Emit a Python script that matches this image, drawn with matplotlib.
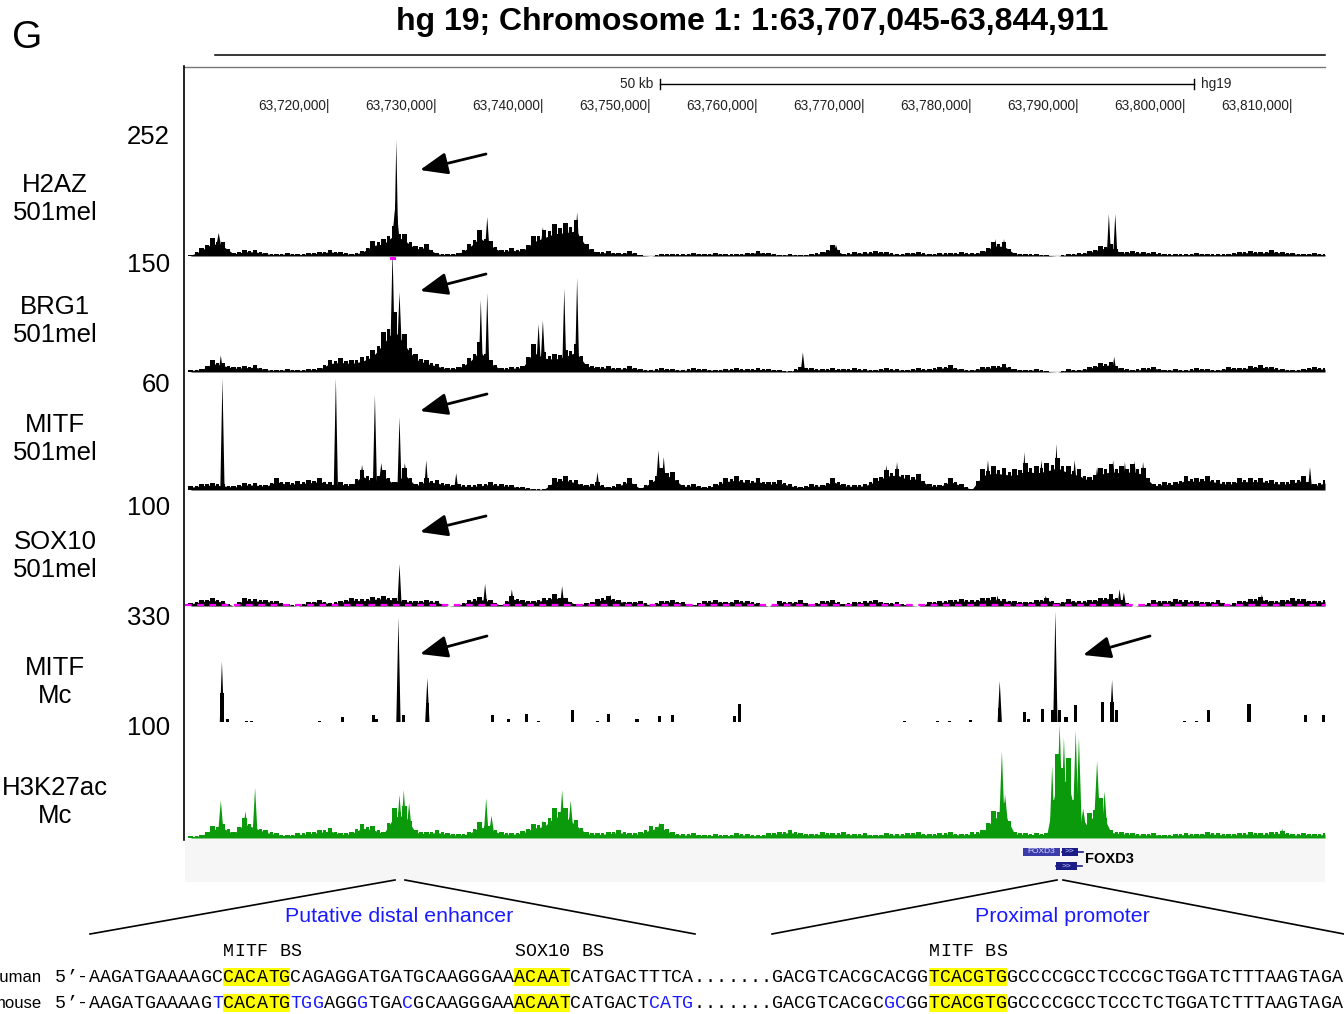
import numpy as np
import matplotlib
matplotlib.use('Agg')
import matplotlib.pyplot as plt
from matplotlib.patches import Rectangle, FancyArrowPatch
from matplotlib.lines import Line2D

plt.rcParams['font.family'] = ['Liberation Sans', 'DejaVu Sans']

# ---------------- data ----------------
bin_start_kb = 63707          # first 1-kb bin (kb)
view_kb = (63706.45, 63813.0)

track_names = ['H2AZ\n501mel', 'BRG1\n501mel', 'MITF\n501mel', 'SOX10\n501mel', 'MITF\nMc', 'H3K27ac\nMc']
track_max = [252, 150, 60, 100, 330, 100]

h2az_bins = [2,16,36,28,6,12,12,6,4,6, 4,6,8,12,8,4,10,30,34,60, 44,20,24,6,4,6,24,52,30,12,
             16,14,40,52,64,66,72,24,8,10, 6,10,2,0,4,4,4,6,4,6, 4,4,6,10,6,2,4,2,4,8,
             22,4,8,8,10,8,4,6,8,4, 6,6,8,6,10,28,28,6,4,4, 2,0,4,6,10,20,24,8,10,8,
             8,4,4,4,6,4,4,4,8,10, 8,12,8,6,4,6,4]
h2az_spike_kb = [63709.6, 63726.15, 63726.2, 63734.0, 63734.7, 63739.9, 63742.2, 63743.1, 63767.3, 63782.2, 63783.0, 63792.8, 63793.4]
h2az_spike_val = [46, 110, 232, 48, 78, 58, 62, 88, 22, 34, 34, 84, 84]
h2az_spike_w = [0.4, 0.5, 0.2, 0.3, 0.25, 0.3, 0.3, 0.25, 0.3, 0.2, 0.2, 0.2, 0.2]

brg1_bins = [3,4,16,12,7,8,9,4,3,4, 3,4,5,16,18,16,20,29,53,79, 50,24,16,11,5,7,18,39,16,5,
             7,8,37,26,24,29,37,11,7,8, 5,8,4,3,5,4,3,5,4,3, 4,5,4,5,4,3,1,7,5,4,
             5,4,5,4,3,5,4,3,5,4, 7,9,4,3,7,8,11,4,3,4, 1,0,4,3,7,12,13,5,3,5,
             7,3,4,3,5,4,3,7,5,8, 9,7,4,3,4,7,5]
brg1_spike_kb = [63709.8, 63725.85, 63726.0, 63726.5, 63734.1, 63734.7, 63739.5, 63739.9, 63741.9, 63743.1, 63764.2, 63793.3]
brg1_spike_val = [22, 160, 70, 105, 95, 104, 63, 68, 110, 124, 26, 20]
brg1_spike_w = [0.2, 0.25, 0.6, 0.3, 0.2, 0.2, 0.25, 0.25, 0.2, 0.2, 0.2, 0.2]

mitf_bins = [2.1,3.2,3.8,3.2,2.1,3.8,3.8,2.7,6.4,4.3, 4.8,5.4,6.4,4.3,4.3,3.2,10.7,6.4,10.7,4.3,
             11.8,3.2,6.4,5.4,3.2,3.2,2.7,3.2,4.3,3.2, 2.7,1.6,0.5,0.5,6.4,7.5,5.4,2.7,4.3,1.6,
             3.2,6.4,1.1,5.4,11.8,9.6,2.7,3.2,1.6,3.2, 6.4,7.5,5.4,6.4,4.3,5.4,3.2,1.6,3.2,2.7,
             6.4,3.2,2.7,3.2,6.4,10.5,11.5,8.0,8.5,3.2, 2.7,6.4,3.2,0.5,11.0,13.0,12.0,11.0,14.5,13.0,
             14.5,17.0,13.0,11.0,7.0,12.0,14.0,13.0,14.0,12.0, 3.2,4.3,4.3,7.5,6.4,7.5,5.4,4.3,6.4,6.4,
             6.4,5.4,4.3,5.4,7.5,3.2,5.4]
mitf_spike_kb = [63709.95, 63720.55, 63723.0, 63724.2, 63724.8, 63726.5, 63727.0, 63729.0, 63731.8, 63745.0,
                 63750.7, 63751.2, 63772.0, 63773.0, 63781.5, 63784.9, 63786.5, 63787.9, 63789.6, 63791.7,
                 63793.2, 63794.3, 63795.2, 63796.0, 63811.6]
mitf_spike_val = [60, 60, 13.4, 51, 14.5, 39, 14.5, 16, 9, 9.6, 21.4, 17.7, 13.4, 15, 16, 20.4, 16, 24.7,
                  16, 12.3, 16, 15, 15.5, 15, 12.3]
mitf_spike_w = [0.2, 0.2, 0.3, 0.2, 0.3, 0.2, 0.3, 0.2, 0.2, 0.2, 0.25, 0.25, 0.25, 0.25, 0.25, 0.2,
                0.25, 0.2, 0.25, 0.25, 0.25, 0.25, 0.25, 0.25, 0.2]

sox10_bins = [3,6,8,5,0,8,7,6,5,2, 0,4,6,3,5,8,7,9,10,8, 6,5,6,5,0,1,6,9,6,1,
              10,6,5,8,11,8,2,3,7,10, 6,4,5,1,5,6,4,1,5,6, 4,6,5,3,0,5,4,6,1,5,
              6,2,4,5,6,3,4,1,0,4, 5,6,7,6,8,9,7,5,4,6, 8,3,7,5,6,8,11,6,0,1,
              6,5,7,6,5,4,6,1,5,7, 9,5,6,8,7,5,6]
sox10_spike_kb = [63726.5, 63734.5, 63737.0, 63741.7, 63746.2, 63782.4, 63786.9, 63793.8, 63794.2, 63807.1]
sox10_spike_val = [40, 21, 16, 19, 11, 10, 10, 16, 13, 11]
sox10_spike_w = [0.2] * 10

mitfmc_bar_kb = [63709.9, 63710.4, 63712.2, 63712.7, 63719.0, 63721.2, 63724.1, 63724.3, 63726.4, 63726.9,
                 63729.1, 63735.2, 63736.7, 63738.4, 63739.5, 63742.7, 63745.0, 63746.0, 63748.7, 63750.8,
                 63752.0, 63757.8, 63758.3, 63773.7, 63776.8, 63777.9, 63779.9, 63782.6, 63784.9, 63785.3,
                 63786.6, 63787.5, 63788.2, 63788.8, 63789.7, 63792.2, 63793.1, 63793.5, 63799.9, 63801.0,
                 63802.1, 63805.9, 63811.2, 63812.9]
mitfmc_bar_val = [86, 9, 3, 3, 3, 15, 21, 9, 27, 21, 56, 21, 9, 24, 3, 36, 3, 24, 9, 18,
                  21, 18, 53, 3, 3, 3, 6, 42, 30, 9, 39, 36, 36, 15, 50, 59, 59, 36, 3, 3,
                  36, 53, 21, 21]
mitfmc_spike_kb = [63709.9, 63726.4, 63729.1, 63782.6, 63787.8, 63793.1]
mitfmc_spike_val = [181, 312, 131, 122, 330, 125]
mitfmc_spike_w = [0.2, 0.2, 0.2, 0.2, 0.2, 0.2]

h3k27_bins = [1.7,2.6,10.3,12,5.1,17.1,12,6.8,4.3,2.6, 4.3,5.1,6.8,8.6,4.3,5.1,12,10.3,5.1,25.7,
              27.4,6.8,5.1,6.8,4.3,3.4,5.1,13.7,10.3,5.1, 4.3,6,12,13.7,25.7,25.7,15.4,5.1,4.3,5.1,
              6.8,4.3,5.1,10.3,12,5.1,3.4,4.3,2.6,3.4, 2.6,4.3,3.4,2.6,4.3,5.1,6.8,4.3,3.4,5.1,
              4.3,5.1,3.4,4.3,2.6,4.3,3.4,4.3,5.1,3.4, 4.3,5.1,3.4,5.1,6.8,23,30,5.1,4.3,4.3,
              4.3,72,68,8.6,21.4,34.2,6.8,5.1,4.3,3.4, 4.3,2.6,3.4,4.3,3.4,5.1,4.3,3.4,4.3,5.1,
              4.3,5.1,6,3.4,4.3,3.4,4.3]
h3k27_spike_kb = [63709.8, 63712.1, 63713.0, 63726.5, 63726.9, 63727.4, 63734.6, 63735.1, 63739.9, 63741.7,
                  63742.5, 63750.8, 63782.8, 63783.1, 63787.5, 63788.2, 63788.6, 63789.0, 63789.7, 63790.0,
                  63790.4, 63791.7, 63792.4, 63809.0]
h3k27_spike_val = [32, 23, 43, 37, 41, 30, 34, 19, 15, 41, 32, 13, 74, 37, 62, 97, 86, 68, 92, 86, 25, 66, 40, 8]
h3k27_spike_w = [0.3, 0.3, 0.25, 0.3, 0.3, 0.3, 0.25, 0.3, 0.3, 0.3, 0.3, 0.4, 0.3, 0.4, 0.25, 0.35,
                 0.3, 0.3, 0.3, 0.3, 0.4, 0.35, 0.3, 0.2]

ruler_ticks_kb = [63720, 63730, 63740, 63750, 63760, 63770, 63780, 63790, 63800, 63810]
scalebar_start_kb = 63750.8
scalebar_len_kb = 50

# FOXD3 transcripts: start, thickStart, thickEnd, end (kb)
gene_name = 'FOXD3'
gene_rows = [(63788.4, 63788.4, 63789.9, 63790.4), (63787.9, 63787.9, 63789.8, 63790.3)]

human_seq = "5’-AAGATGAAAAGCCACATGCAGAGGATGATGCAAGGGAAACAATCATGACTTTCA.......GACGTCACGCACGGTCACGTGGCCCCGCCTCCCGCTGGATCTTTAAGTAGA"
mouse_seq = "5’-AAGATGAAAAGTCACATGTGGAGGGTGACGCAAGGGAAACAATCATGACTCATG.......GACGTCACGCGCGGTCACGTGGCCCCGCCTCCCTCTGGATCTTTAAGTAGA"
binding_sites = [(15, 21, 'MITF BS'), (41, 46, 'SOX10 BS'), (78, 85, 'MITF BS')]
mouse_blue_spans = [(14, 15), (21, 24), (27, 28), (31, 32), (53, 57), (74, 76)]

# ---------------- layout helpers ----------------
W, H = 1344, 1014
fig = plt.figure(figsize=(W / 100, H / 100), dpi=100)
fig.patch.set_facecolor('white')


def fx(x):
    return x / W


def fy(y):
    return 1 - y / H


def add_ax(top, bottom, left=185, right=1325):
    ax = fig.add_axes([fx(left), fy(bottom), (right - left) / W, (bottom - top) / H])
    ax.set_xlim(*view_kb)
    ax.axis('off')
    return ax


def fig_line(x0, y0, x1, y1, color='black', lw=1.0):
    fig.add_artist(Line2D([fx(x0), fx(x1)], [fy(y0), fy(y1)], transform=fig.transFigure,
                          color=color, lw=lw))


# ---------------- header ----------------
fig.text(fx(27), fy(38), 'G', fontsize=28, ha='center', va='center')
fig.text(fx(752), fy(22), 'hg 19; Chromosome 1: 1:63,707,045-63,844,911', fontsize=23,
         fontweight='bold', ha='center', va='center')
fig_line(215, 55, 1325, 55, lw=1.1)
fig_line(184, 66.5, 1325, 66.5, color='#777777', lw=1.0)
fig_line(184, 66, 184, 840, color='black', lw=1.2)

# ruler
axr = add_ax(66, 125)
axr.set_ylim(125, 66)
for kb in ruler_ticks_kb:
    axr.text(kb, 106, f'{kb * 1000:,}|', fontsize=9.8, ha='right', va='center', color='#222222')
sb0, sb1 = scalebar_start_kb, scalebar_start_kb + scalebar_len_kb
axr.plot([sb0, sb1], [84, 84], color='black', lw=1.0)
axr.plot([sb0, sb0], [79, 89], color='black', lw=1.0)
axr.plot([sb1, sb1], [79, 89], color='black', lw=1.0)
axr.text(sb0 - 0.6, 84, f'{scalebar_len_kb} kb', fontsize=9.8, ha='right', va='center', color='#222222')
axr.text(sb1 + 0.6, 84, 'hg19', fontsize=9.8, ha='left', va='center', color='#222222')

# ---------------- tracks ----------------
track_box = [(130, 256), (258, 372), (378, 490), (501, 606), (611, 722), (721, 838)]
label_y = [199, 321, 439, 556, 682, 802]
max_y = [137, 265, 385, 508, 618, 728]


def draw_profile(ax, bins, sk, sv, sw, color, ymax, baseline=True):
    x = bin_start_kb + np.arange(len(bins))
    b = np.asarray(bins, dtype=float)
    # jagged "wiggle" texture: smooth base plus narrow teeth at every bin
    ax.fill_between(x, 0, 0.7 * b, color=color, lw=0, zorder=2)
    ax.bar(x, b, width=0.45, color=color, lw=0, zorder=2)
    ax.bar(x + 0.5, 0.5 * (b + np.r_[b[1:], b[-1]]) * 0.85, width=0.3, color=color, lw=0, zorder=2)
    if baseline:
        ax.plot(x, np.zeros(len(x)), color=color, lw=0.9, zorder=2)
    for c, v, w in zip(sk, sv, sw):
        ax.fill([c - w, c, c + w], [0, v, 0], color=color, lw=0, zorder=2)
        if v > ymax:
            ax.plot([c - 0.12, c + 0.12], [ymax, ymax], color='#ff00ff', lw=2.2,
                    clip_on=False, zorder=3)


profiles = [
    (h2az_bins, h2az_spike_kb, h2az_spike_val, h2az_spike_w, 'black'),
    (brg1_bins, brg1_spike_kb, brg1_spike_val, brg1_spike_w, 'black'),
    (mitf_bins, mitf_spike_kb, mitf_spike_val, mitf_spike_w, 'black'),
    (sox10_bins, sox10_spike_kb, sox10_spike_val, sox10_spike_w, 'black'),
    None,
    (h3k27_bins, h3k27_spike_kb, h3k27_spike_val, h3k27_spike_w, '#0b9a0b'),
]

axes = []
for k, (top, bot) in enumerate(track_box):
    ax = add_ax(top, bot)
    ax.set_ylim(0, track_max[k])
    axes.append(ax)
    if profiles[k] is not None:
        b, sk, sv, sw, col = profiles[k]
        draw_profile(ax, b, sk, sv, sw, col, track_max[k], baseline=(k != 3))
    else:
        ax.bar(mitfmc_bar_kb, mitfmc_bar_val, width=0.3, color='black', lw=0, zorder=2)
        for c, v, w in zip(mitfmc_spike_kb, mitfmc_spike_val, mitfmc_spike_w):
            ax.fill([c - w, c, c + w], [0, v, 0], color='black', lw=0, zorder=2)
    if k == 3:
        ax.axhline(1.0, color='#ff00ff', lw=1.6, ls=(0, (3, 2.5)), zorder=3, clip_on=False)
    fig.text(fx(55), fy(label_y[k]), track_names[k], fontsize=18.5, ha='center', va='center',
             linespacing=1.25)
    fig.text(fx(170), fy(max_y[k]), str(track_max[k]), fontsize=18.5, ha='right', va='center')

# arrows (annotation)
arrow_px = [((486, 154), (420, 170)), ((486, 274), (420, 291)), ((487, 394), (420, 411)),
            ((486, 516), (420, 532)), ((487, 636), (420, 654)), ((1150, 636), (1083, 655))]
for (t, h) in arrow_px:
    arr = FancyArrowPatch((fx(t[0]), fy(t[1])), (fx(h[0]), fy(h[1])), transform=fig.transFigure,
                          arrowstyle='-|>,head_length=1.05,head_width=0.42', mutation_scale=16,
                          color='black', lw=2.0, shrinkA=0, shrinkB=0)
    fig.add_artist(arr)

# ---------------- gene track ----------------
axg = add_ax(839, 882)
axg.set_ylim(882, 839)
axg.add_patch(Rectangle((view_kb[0], 839), view_kb[1] - view_kb[0], 43, color='#f6f6f6', lw=0, zorder=0))
navy = '#1c1c86'
row_y = [851.5, 866]
for r, (s, ts, te, e) in enumerate(gene_rows):
    y = row_y[r]
    axg.plot([s, e], [y, y], color=navy, lw=1.2, zorder=2)
    axg.add_patch(Rectangle((ts, y - 4), te - ts, 8, color=navy, lw=0, zorder=3))
    axg.text((ts + te) / 2, y, '>>', fontsize=6, color='#c8c8ff', ha='center', va='center', zorder=4)
# packed name label
s0 = gene_rows[0][0]
axg.add_patch(Rectangle((s0 - 3.6, 847.5), 3.4, 8, color='#3b3bab', lw=0, zorder=3))
axg.text(s0 - 1.9, 851.5, gene_name, fontsize=6, color='#dcdcff', ha='center', va='center', zorder=4)
axg.text(gene_rows[0][3] + 0.2, 859, gene_name, fontsize=10.5, fontweight='bold', ha='left', va='center')

# ---------------- connectors / labels ----------------
fig_line(395, 880, 90, 934, lw=1.2)
fig_line(405, 880, 695, 934, lw=1.2)
fig_line(1057, 880, 772, 934, lw=1.2)
fig_line(1063, 880, 1344, 934, lw=1.2)
blue = '#1a1aff'
fig.text(fx(399), fy(917), 'Putative distal enhancer', fontsize=15.4, color=blue, ha='center', va='center')
fig.text(fx(1062), fy(917), 'Proximal promoter', fontsize=15.4, color=blue, ha='center', va='center')

# ---------------- sequences ----------------
cw = 11.2           # px per character
x0 = 55
mono = ['Liberation Mono', 'DejaVu Sans Mono']
fs_mono = 13.2
seq_y = [977, 1003]

for (a, b, name) in binding_sites:
    for i, ch in enumerate(name):
        fig.text(fx(x0 + (a + i) * cw + cw / 2), fy(952), ch, fontsize=fs_mono, family=mono,
                 ha='center', va='center')

for row, seq in enumerate([human_seq, mouse_seq]):
    y = seq_y[row]
    for (a, b, name) in binding_sites:
        fig.add_artist(Rectangle((fx(x0 + a * cw), fy(y + 9)), (b - a) * cw / W, 18 / H,
                                 transform=fig.transFigure, color='#ffff00', lw=0, zorder=0))
    colors = ['black'] * len(seq)
    if row == 1:
        for (a, b) in mouse_blue_spans:
            for i in range(a, b):
                colors[i] = blue
    for i, ch in enumerate(seq):
        fig.text(fx(x0 + i * cw + cw / 2), fy(y), ch, fontsize=fs_mono, family=mono, color=colors[i],
                 ha='center', va='center', zorder=2)

fig.text(fx(42), fy(977), 'human', fontsize=12, ha='right', va='center')
fig.text(fx(42), fy(1003), 'mouse', fontsize=12, ha='right', va='center')

fig.savefig('out.png', dpi=100, facecolor='white')
